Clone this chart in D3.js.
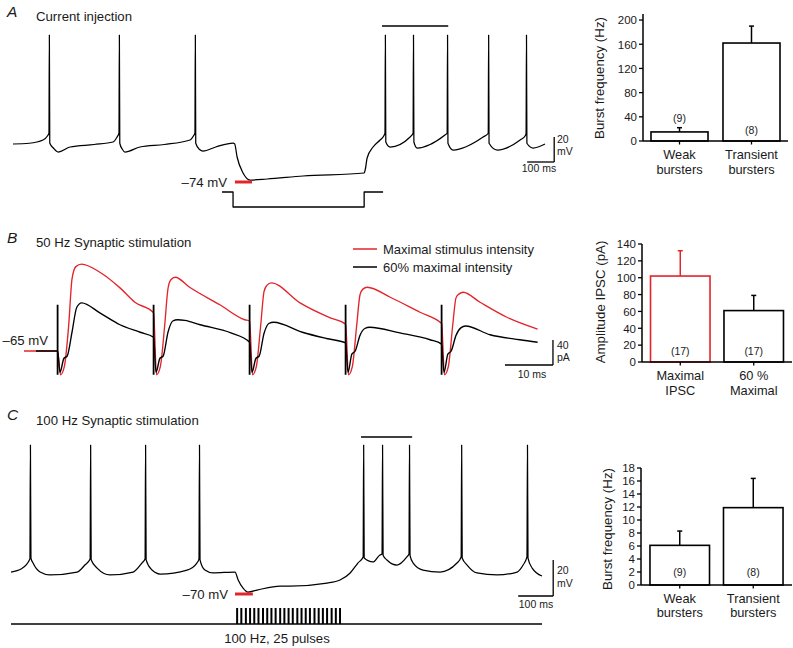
<!DOCTYPE html>
<html><head><meta charset="utf-8">
<script src="https://cdn.jsdelivr.net/npm/d3@7"></script>
<style>
body{margin:0;background:#fff}
svg{display:block}
text{font-family:"Liberation Sans",Arial,Helvetica,sans-serif;fill:#1a1a1a}
</style>
</head><body>
<svg id="fig" width="793" height="648"></svg>
<script>
// ---------------- DATA ----------------
const RED = "#e3242b";
// Panel A: membrane potential trace [time ms, mV]
const traceA = [[0,-43.6],[60,-43],[111,-40.4],[128,-37],[133,-35],[134.5,43.6],[136,-42.8],[150,-47],[167,-50],[211,-46],[300,-44],[370,-42],[385,-38],[392,-35],[393.5,43.6],[395,-43],[405,-48],[414,-50],[470,-46],[560,-44],[655,-40.4],[668,-37],[673,-35],[674.5,43.6],[676,-43],[690,-48],[703,-49.2],[750,-46],[814,-42.8],[820,-43.5],[829,-54],[851,-66.8],[877,-72.4],[940,-71.6],[1073,-69.2],[1299,-66.8],[1304,-63],[1310,-54.8],[1332,-46],[1358,-40.4],[1372,-37],[1376,-35],[1377.5,43.6],[1379,-42],[1395,-46],[1469,-38],[1480,-35],[1481.5,43.6],[1483,-42],[1495,-46.8],[1598,-36.4],[1606,-35],[1607.5,43.6],[1609,-43],[1628,-48.4],[1739,-38],[1758,-35],[1759.5,43.6],[1761,-43],[1791,-48.4],[1876,-40.4],[1895,-37],[1898,-35],[1899.5,43.6],[1901,-43],[1924,-46.8],[1968,-43.6]];
const currentStepA = [[773,0],[814,0],[814,-1],[1299,-1],[1299,0],[1369,0]];
const burstA = [1365,1610,50.8];
const restA = [821,884,-74];

// Panel B: IPSC traces [time ms, pA]
const stimB = [7,27,47,67,87];
const artifactB = [-38,74];
const redB = [[0,0],[7,0],[7.6,-38],[8.4,-25],[9.3,40],[10,115],[10.8,135],[12,139],[15.8,126],[20,101],[23.1,78],[27,61],
 [27.6,-38],[28.4,-25],[29.3,40],[30,100],[30.6,114],[31.5,118],[34.5,102],[40.8,74],[46,50],[47,48],
 [47.6,-38],[48.4,-25],[49.3,40],[50,95],[50.6,105],[51.5,109],[57.5,77],[63.8,53],[67,43],
 [67.6,-38],[68.4,-25],[69.3,40],[70,90],[70.6,99],[71.5,102],[76.3,86],[82.5,62],[86.7,46],[87,44],
 [87.6,-38],[88.4,-25],[89.3,40],[90,85],[90.6,91],[91.5,94],[95,78],[100.6,54],[107,35]];
const blackB = [[2.5,0],[7,0],[7.5,-34],[8.3,-12],[9,-8],[10,30],[11,70],[12,77],[15.8,61],[20,42],[24.2,30],[27,22],
 [27.5,-34],[28.3,-12],[29,-8],[30,30],[31,48],[32,50],[33.5,49],[36.7,42],[43.1,29],[47,14],
 [47.5,-34],[48.3,-12],[49,-8],[50,28],[51,44],[52,46],[58,30],[63,20],[67,13],
 [67.5,-34],[68.3,-5],[69,0],[70,25],[71,36],[72,38],[78.3,29],[84.6,18],[87,11],
 [87.5,-34],[88.3,-5],[89,0],[90,25],[91,37],[92,40],[97.1,26],[103.3,18],[107,14]];

// Panel C: membrane potential trace [time ms, mV]
const traceC = [[0,-57.8],[30,-56],[54,-50.6],[55.5,12.8],[57,-50],[63,-52.8],[83,-57.8],[111,-59.4],[189,-57.8],[211,-53.9],[226,-50.6],[227.5,12.8],[229,-51],[246,-55.6],[283,-59.4],[349,-57.8],[374,-52.8],[383,-50.6],[384.5,12.8],[386,-51],[403,-56.7],[426,-58.9],[503,-56.7],[531,-52.8],[537,-50.6],[538.5,12.8],[540,-51],[554,-56.7],[577,-58.3],[640,-57.8],[649,-62.2],[663,-66.7],[677,-68.9],[703,-67.8],[769,-65.6],[797,-65.6],[903,-63.9],[940,-62.2],[969,-58.3],[991,-52.8],[1006,-49.4],[1007.5,12.8],[1009,-50],[1034,-52.2],[1054,-48.3],[1060,-47.8],[1061.5,12.8],[1063,-48.5],[1074,-51.1],[1103,-53.9],[1131,-49.4],[1137,-47.8],[1138.5,12.8],[1140,-48.5],[1149,-52.8],[1177,-56.7],[1226,-57.8],[1274,-52.8],[1286,-49.4],[1287.5,12.8],[1289,-50],[1303,-53.9],[1331,-58.3],[1389,-59.4],[1446,-57.8],[1463,-53.9],[1474,-49.4],[1475.5,12.8],[1477,-50],[1489,-55.6],[1517,-60]];
const pulsesC = [646,658,671,683,695,707,720,732,744,756,769,781,793,805,818,830,842,854,867,879,891,903,916,928,940];
const burstC = [1000,1146,17.2];
const restC = [640,691,-70];

// Bar charts
const catsA = ["Weak|bursters","Transient|bursters"];
const meanA = [15,162], semA = [7,28], nA = ["(9)","(8)"];
const ticksA = [0,40,80,120,160,200];
const catsB = ["Maximal|IPSC","60 %|Maximal"];
const meanB = [102,61], semB = [30,18], nB = ["(17)","(17)"];
const ticksB = [0,20,40,60,80,100,120,140];
const catsC = ["Weak|bursters","Transient|bursters"];
const meanC = [6.1,11.9], semC = [2.2,4.5], nC = ["(9)","(8)"];
const ticksC = [0,2,4,6,8,10,12,14,16,18];

// ---------------- DRAW ----------------
const svg = d3.select("#fig");
svg.append("rect").attr("width",793).attr("height",648).attr("fill","#fff");

function txt(x,y,s,opt={}){
  const t = svg.append("text").attr("x",x).attr("y",y).text(s)
    .attr("font-size",opt.size||13.2).attr("text-anchor",opt.anchor||"start");
  if(opt.italic) t.attr("font-style","italic");
  if(opt.fill) t.style("fill",opt.fill);
  return t;
}
function seg(x1,y1,x2,y2,col,w){
  svg.append("line").attr("x1",x1).attr("y1",y1).attr("x2",x2).attr("y2",y2)
    .attr("stroke",col||"#000").attr("stroke-width",w||1.3);
}
function trace(data,x,y,col,w,curve){
  svg.append("path").datum(data)
    .attr("d",d3.line().x(d=>x(d[0])).y(d=>y(d[1])).curve(curve||d3.curveMonotoneX))
    .attr("fill","none").attr("stroke",col).attr("stroke-width",w).attr("stroke-linejoin","round");
}

// ----- Panel A -----
txt(7,17,"A",{size:15.5,italic:true});
txt(36,21,"Current injection");
const xA = d3.scaleLinear().domain([0,1968]).range([13,545]);
const yA = d3.scaleLinear().domain([-74,43.6]).range([182,35]);
trace(traceA,xA,yA,"#000",1.25);
const yIA = d3.scaleLinear().domain([-1,0]).range([207,192]);
trace(currentStepA,xA,yIA,"#000",1.3,d3.curveLinear);
seg(xA(burstA[0]),yA(burstA[2]),xA(burstA[1]),yA(burstA[2]),"#000",1.5);
seg(xA(restA[0]),yA(restA[2]),xA(restA[1]),yA(restA[2]),RED,3);
txt(227,187,"–74 mV",{anchor:"end"});
// scale bar A (20 mV, 100 ms)
seg(xA(2002),yA(-38),xA(2002),yA(-58),"#000",1.3);
seg(xA(1902),yA(-58),xA(2002),yA(-58),"#000",1.3);
txt(557,143,"20",{size:10.5});
txt(557,155,"mV",{size:10.5});
txt(539,172,"100 ms",{size:10.5,anchor:"middle"});

// ----- Panel B -----
txt(7,243,"B",{size:15.5,italic:true});
txt(36,247,"50 Hz Synaptic stimulation");
const xB = d3.scaleLinear().domain([0,10]).range([24,72]);
const yB = d3.scaleLinear().domain([0,40]).range([351,326]);
trace(redB,xB,yB,RED,1.35);
trace(blackB,xB,yB,"#000",1.35);
stimB.forEach(s=>seg(xB(s),yB(artifactB[0]),xB(s),yB(artifactB[1]),"#000",1.8));
txt(48,345,"–65 mV",{anchor:"end"});
seg(353,249,377,249,RED,1.5);
txt(383,254,"Maximal stimulus intensity",{size:13});
seg(353,267,377,267,"#000",1.5);
txt(383,272,"60% maximal intensity",{size:13});
// scale bar B (40 pA, 10 ms)
seg(xB(110.2),yB(17.6),xB(110.2),yB(-22.4),"#000",1.3);
seg(xB(100.2),yB(-22.4),xB(110.2),yB(-22.4),"#000",1.3);
txt(557,349,"40",{size:10.5});
txt(557,361,"pA",{size:10.5});
txt(532,378,"10 ms",{size:10.5,anchor:"middle"});

// ----- Panel C -----
txt(7,420,"C",{size:15.5,italic:true});
txt(36,425,"100 Hz Synaptic stimulation");
const xC = d3.scaleLinear().domain([0,1517]).range([11,542]);
const yC = d3.scaleLinear().domain([-70,12.8]).range([594,445]);
trace(traceC,xC,yC,"#000",1.25);
seg(xC(burstC[0]),yC(burstC[2]),xC(burstC[1]),yC(burstC[2]),"#000",1.5);
seg(xC(restC[0]),yC(restC[2]),xC(restC[1]),yC(restC[2]),RED,3);
txt(228,599,"–70 mV",{anchor:"end"});
const yS = d3.scaleLinear().domain([0,1]).range([624,608]);
seg(xC(0),yS(0),xC(1517),yS(0),"#000",1.3);
pulsesC.forEach(p=>seg(xC(p),yS(0),xC(p),yS(1),"#000",2));
txt(277,643,"100 Hz, 25 pulses",{anchor:"middle"});
// scale bar C (20 mV, 100 ms)
seg(xC(1549),yC(-51.1),xC(1549),yC(-71.1),"#000",1.3);
seg(xC(1449),yC(-71.1),xC(1549),yC(-71.1),"#000",1.3);
txt(557,574,"20",{size:10.5});
txt(557,587,"mV",{size:10.5});
txt(536,608,"100 ms",{size:10.5,anchor:"middle"});

// ----- Bar charts -----
function barChart(cfg){
  const g = svg.append("g");
  const x = d3.scaleBand().domain(cfg.cats).range(cfg.xr).paddingInner(cfg.pi).paddingOuter(cfg.po);
  const y = d3.scaleLinear().domain(cfg.yd).range(cfg.yr);
  const base = y(0);
  // y axis
  g.append("line").attr("x1",cfg.xr[0]).attr("x2",cfg.xr[0]).attr("y1",base).attr("y2",y(cfg.yd[1]))
    .attr("stroke","#000").attr("stroke-width",1.5);
  cfg.ticks.forEach(t=>{
    g.append("line").attr("x1",cfg.xr[0]-4).attr("x2",cfg.xr[0]).attr("y1",y(t)).attr("y2",y(t))
      .attr("stroke","#000").attr("stroke-width",1.3);
    g.append("text").attr("x",cfg.xr[0]-6).attr("y",y(t)+4.3).attr("text-anchor","end")
      .attr("font-size",11.5).text(t);
  });
  g.append("text").attr("transform",`translate(${cfg.titleX},${cfg.titleY}) rotate(-90)`)
    .attr("text-anchor","middle").attr("font-size",13.3).text(cfg.title);
  // bars
  cfg.cats.forEach((c,i)=>{
    const col = cfg.colors[i];
    const bx = x(c), bw = x.bandwidth(), cx = bx+bw/2;
    const top = y(cfg.means[i]), etop = y(cfg.means[i]+cfg.sems[i]);
    g.append("line").attr("x1",cx).attr("x2",cx).attr("y1",top).attr("y2",etop)
      .attr("stroke",col).attr("stroke-width",1.5);
    g.append("line").attr("x1",cx-2.5).attr("x2",cx+2.5).attr("y1",etop).attr("y2",etop)
      .attr("stroke",col).attr("stroke-width",1.5);
    g.append("rect").attr("x",bx).attr("y",top).attr("width",bw).attr("height",base-top)
      .attr("fill","#fff").attr("stroke",col).attr("stroke-width",1.6);
    g.append("text").attr("x",cx).attr("y",base-cfg.nOff[i]).attr("text-anchor","middle")
      .attr("font-size",10.5).text(cfg.ns[i]);
    g.append("line").attr("x1",cx).attr("x2",cx).attr("y1",base).attr("y2",base+3.5)
      .attr("stroke","#000").attr("stroke-width",1.3);
    const lines = c.split("|");
    lines.forEach((l,j)=>g.append("text").attr("x",cx).attr("y",base+cfg.lab[j])
      .attr("text-anchor","middle").attr("font-size",12.8).text(l));
  });
  g.append("line").attr("x1",cfg.xr[0]).attr("x2",cfg.xr[1]).attr("y1",base).attr("y2",base)
    .attr("stroke","#000").attr("stroke-width",1.5);
}
barChart({cats:catsA,means:meanA,sems:semA,ns:nA,ticks:ticksA,colors:["#000","#000"],
  xr:[643,788],pi:0.208,po:0.111,yd:[0,210],yr:[141,14],nOff:[19,7],lab:[18,33],
  title:"Burst frequency (Hz)",titleX:604,titleY:78});
barChart({cats:catsB,means:meanB,sems:semB,ns:nB,ticks:ticksB,colors:[RED,"#000"],
  xr:[642,792],pi:0.19,po:0.116,yd:[0,140],yr:[362,244],nOff:[7,7],lab:[18,33],
  title:"Amplitude IPSC (pA)",titleX:605,titleY:302});
barChart({cats:catsC,means:meanC,sems:semC,ns:nC,ticks:ticksC,colors:["#000","#000"],
  xr:[641,792],pi:0.19,po:0.122,yd:[0,18],yr:[585,468],nOff:[9,9],lab:[18,32],
  title:"Burst frequency (Hz)",titleX:612,titleY:529});
</script>
</body></html>
